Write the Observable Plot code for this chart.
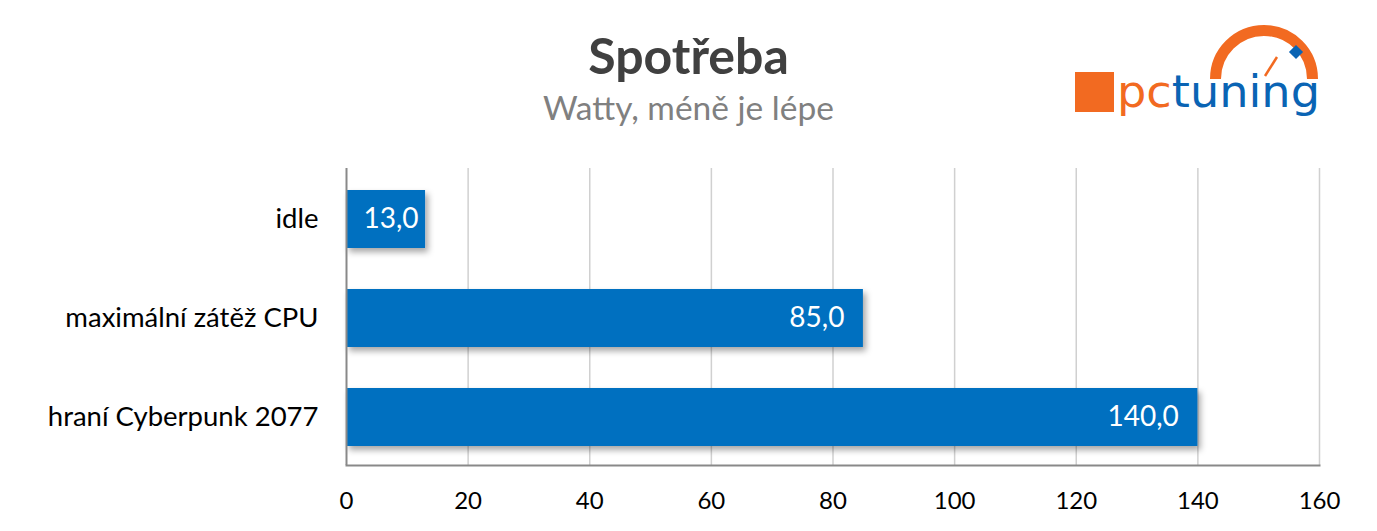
<!DOCTYPE html>
<html>
<head>
<meta charset="utf-8">
<script src="https://cdn.jsdelivr.net/npm/d3@7"></script>
<script src="https://cdn.jsdelivr.net/npm/@observablehq/plot@0.6"></script>
<style>
  html, body { margin: 0; padding: 0; background: #fff; }
  #wrap { position: relative; width: 1377px; height: 531px; overflow: hidden; font-family: Lato, "Open Sans", sans-serif; }
  #title { position: absolute; left: 0; width: 1377px; top: 27px; line-height: 56px; text-align: center; font-size: 50px; font-weight: bold; color: #404040; }
  #subtitle { position: absolute; left: 0; width: 1377px; top: 86px; line-height: 42px; text-align: center; font-size: 33.5px; color: #808080; }
  #logo { position: absolute; left: 1060px; top: 10px; }
  #chart { position: absolute; left: 0; top: 140px; }
</style>
</head>
<body>
<div id="wrap">
  <div id="title">Spotřeba</div>
  <div id="subtitle">Watty, méně je lépe</div>
  <svg id="logo" width="300" height="110" viewBox="0 0 300 110">
    <rect x="15" y="62" width="39" height="40" fill="#f26a21"/>
    <path d="M 155.5 69 A 48.5 48.5 0 1 1 252.5 69" fill="none" stroke="#f26a21" stroke-width="11"/>
    <rect x="231" y="37" width="10" height="10" fill="#0a64b4" transform="rotate(45 236 42)"/>
    <line x1="217" y1="47" x2="205" y2="66" stroke="#f26a21" stroke-width="2.5"/>
    <text x="57" y="97" font-family="DejaVu Sans, sans-serif" font-size="44" textLength="203" lengthAdjust="spacingAndGlyphs"><tspan fill="#f26a21">pc</tspan><tspan fill="#0a64b4">tuning</tspan></text>
  </svg>
  <div id="chart"></div>
</div>
<script>
const categories = ["idle", "maximální zátěž CPU", "hraní Cyberpunk 2077"];
const values = [13.0, 85.0, 140.0];
const xTicks = [0, 20, 40, 60, 80, 100, 120, 140, 160];

const data = categories.map((c, i) => ({category: c, value: values[i]}));
const fmt = v => d3.format(".1f")(v).replace(".", ",");

const plot = Plot.plot({
  width: 1377,
  height: 391,
  marginLeft: 346,
  marginRight: 58,
  marginTop: 28,
  marginBottom: 66,
  style: {fontFamily: "Lato, 'Open Sans', sans-serif", fontSize: "24px", color: "#000", background: "transparent"},
  x: {domain: [0, 160], ticks: xTicks, label: null},
  y: {domain: categories, range: [30, 327], paddingInner: 0.41, paddingOuter: 0.205, label: null},
  marks: [
    Plot.ruleX(xTicks.slice(1), {stroke: "#d0d0d0", strokeWidth: 1.5}),
    Plot.axisX({ticks: xTicks, tickSize: 0, tickPadding: 26, fontSize: 24, label: null, tickFormat: d => d}),
    Plot.axisY({tickSize: 0, tickPadding: 28, fontSize: 27.5, label: null}),
    Plot.barX(data, {x: "value", y: "category", fill: "#0070c0", className: "bars"}),
    Plot.text(data, {filter: d => d.value >= 20, x: "value", y: "category", text: d => fmt(d.value), textAnchor: "end", dx: -19, fill: "white", fontSize: 28}),
    Plot.text(data, {filter: d => d.value < 20, x: "value", y: "category", text: d => fmt(d.value), textAnchor: "end", dx: -7, fill: "white", fontSize: 28}),
    Plot.ruleX([0], {stroke: "#898989", strokeWidth: 2}),
    Plot.frame({anchor: "bottom", stroke: "#898989", strokeWidth: 2})
  ]
});

// drop shadow filter for bars
const defs = d3.select(plot).insert("defs", ":first-child");
defs.append("filter").attr("id", "shadow").attr("x", "-10%").attr("y", "-10%").attr("width", "130%").attr("height", "140%")
  .append("feDropShadow").attr("dx", 3).attr("dy", 4).attr("stdDeviation", 3).attr("flood-color", "#000").attr("flood-opacity", 0.35);
d3.select(plot).selectAll(".bars rect").attr("filter", "url(#shadow)");

document.getElementById("chart").appendChild(plot);
</script>
</body>
</html>
